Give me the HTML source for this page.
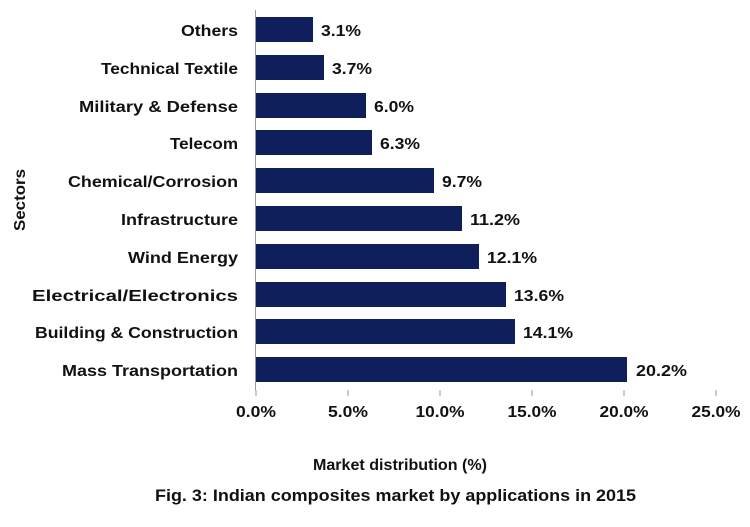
<!DOCTYPE html>
<html><head><style>
body{margin:0;background:#fff;}
svg text{font-family:"Liberation Sans",sans-serif;font-weight:bold;fill:#111;}
</style></head><body>
<svg width="750" height="522" xmlns="http://www.w3.org/2000/svg">
<line x1="255.5" y1="10" x2="255.5" y2="390" stroke="#999" stroke-width="1"/>
<g stroke="#999">
<line x1="256" y1="390" x2="256" y2="396"/><line x1="348" y1="390" x2="348" y2="396"/>
<line x1="440" y1="390" x2="440" y2="396"/><line x1="532" y1="390" x2="532" y2="396"/>
<line x1="624" y1="390" x2="624" y2="396"/><line x1="716" y1="390" x2="716" y2="396"/>
</g>
<g fill="#0f1f5c">
<rect x="256" y="17" width="57" height="25"/>
<rect x="256" y="55" width="68" height="25"/>
<rect x="256" y="93" width="110" height="25"/>
<rect x="256" y="130" width="116" height="25"/>
<rect x="256" y="168" width="178" height="25"/>
<rect x="256" y="206" width="206" height="25"/>
<rect x="256" y="244" width="223" height="25"/>
<rect x="256" y="282" width="250" height="25"/>
<rect x="256" y="319" width="259" height="25"/>
<rect x="256" y="357" width="371" height="25"/>
</g>
<g font-size="16" lengthAdjust="spacingAndGlyphs">
<text x="181" y="36" textLength="57" lengthAdjust="spacingAndGlyphs">Others</text>
<text x="101" y="74" textLength="137" lengthAdjust="spacingAndGlyphs">Technical Textile</text>
<text x="79" y="112" textLength="159" lengthAdjust="spacingAndGlyphs">Military &amp; Defense</text>
<text x="170" y="149" textLength="68" lengthAdjust="spacingAndGlyphs">Telecom</text>
<text x="68" y="187" textLength="170" lengthAdjust="spacingAndGlyphs">Chemical/Corrosion</text>
<text x="121" y="225" textLength="117" lengthAdjust="spacingAndGlyphs">Infrastructure</text>
<text x="128" y="263" textLength="110" lengthAdjust="spacingAndGlyphs">Wind Energy</text>
<text x="32" y="301" textLength="206" lengthAdjust="spacingAndGlyphs">Electrical/Electronics</text>
<text x="35" y="338" textLength="203" lengthAdjust="spacingAndGlyphs">Building &amp; Construction</text>
<text x="62" y="376" textLength="176" lengthAdjust="spacingAndGlyphs">Mass Transportation</text>
</g>
<g font-size="16">
<text x="321" y="36" textLength="40" lengthAdjust="spacingAndGlyphs">3.1%</text>
<text x="332" y="74" textLength="40" lengthAdjust="spacingAndGlyphs">3.7%</text>
<text x="374" y="112" textLength="40" lengthAdjust="spacingAndGlyphs">6.0%</text>
<text x="380" y="149" textLength="40" lengthAdjust="spacingAndGlyphs">6.3%</text>
<text x="442" y="187" textLength="40" lengthAdjust="spacingAndGlyphs">9.7%</text>
<text x="470" y="225" textLength="50" lengthAdjust="spacingAndGlyphs">11.2%</text>
<text x="487" y="263" textLength="50" lengthAdjust="spacingAndGlyphs">12.1%</text>
<text x="514" y="301" textLength="50" lengthAdjust="spacingAndGlyphs">13.6%</text>
<text x="523" y="338" textLength="50" lengthAdjust="spacingAndGlyphs">14.1%</text>
<text x="636" y="376" textLength="51" lengthAdjust="spacingAndGlyphs">20.2%</text>
</g>
<g font-size="16" text-anchor="middle">
<text x="256" y="417" textLength="40" lengthAdjust="spacingAndGlyphs">0.0%</text>
<text x="348" y="417" textLength="40" lengthAdjust="spacingAndGlyphs">5.0%</text>
<text x="440" y="417" textLength="49" lengthAdjust="spacingAndGlyphs">10.0%</text>
<text x="532" y="417" textLength="49" lengthAdjust="spacingAndGlyphs">15.0%</text>
<text x="624" y="417" textLength="49" lengthAdjust="spacingAndGlyphs">20.0%</text>
<text x="716" y="417" textLength="49" lengthAdjust="spacingAndGlyphs">25.0%</text>
<text x="400" y="470" textLength="174" lengthAdjust="spacingAndGlyphs">Market distribution (%)</text>
<text x="395.5" y="501" font-size="17" textLength="481" lengthAdjust="spacingAndGlyphs">Fig. 3: Indian composites market by applications in 2015</text>
<text transform="translate(25,200) rotate(-90)" textLength="62" lengthAdjust="spacingAndGlyphs">Sectors</text>
</g>
</svg>
</body></html>
